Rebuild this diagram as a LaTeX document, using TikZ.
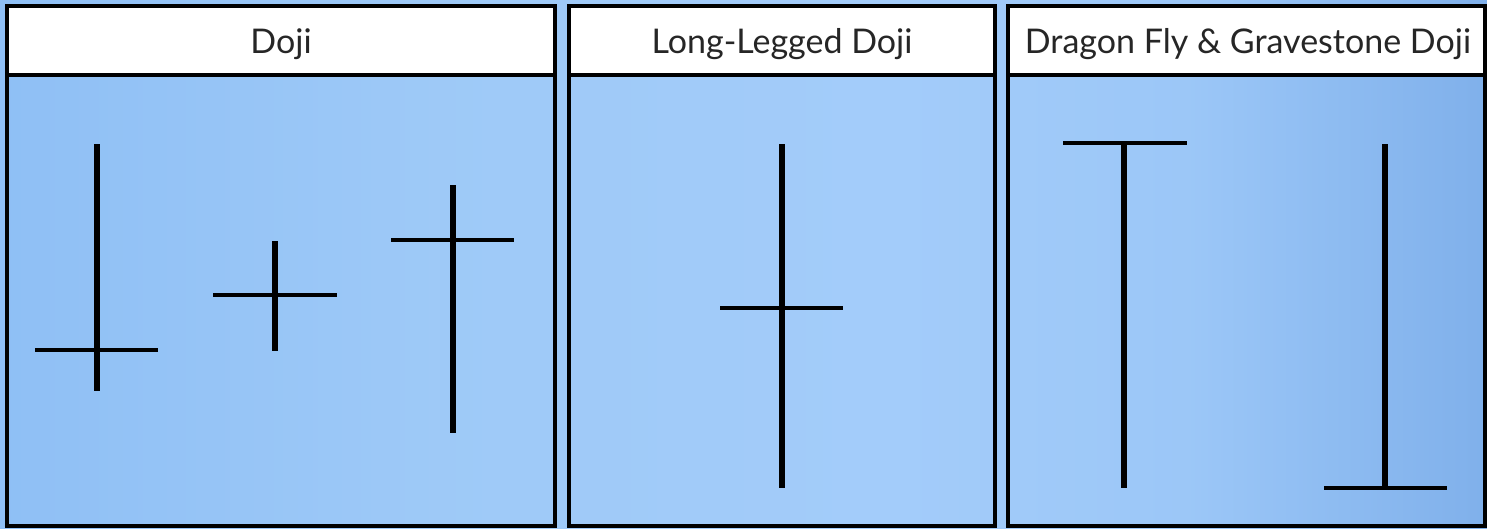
\documentclass[tikz,border=0pt]{standalone}
\usepackage{fontspec}
\setmainfont{Lato}
\pgfdeclarehorizontalshading{bgshade}{100bp}{
  rgb(0bp)=(0.56,0.75,0.96);
  rgb(25bp)=(0.56,0.75,0.96);
  rgb(40bp)=(0.62,0.79,0.97);
  rgb(55bp)=(0.64,0.80,0.98);
  rgb(65bp)=(0.61,0.78,0.97);
  rgb(75bp)=(0.50,0.69,0.92);
  rgb(100bp)=(0.50,0.69,0.92)}
\begin{document}
\begin{tikzpicture}[x=1pt,y=-1pt,
  panel/.style={draw=black,line width=4pt},
  header/.style={draw=black,line width=4pt,fill=white},
  title/.style={font=\fontsize{34}{40}\selectfont,text=black!85,anchor=base},
  stick/.style={draw=black,line width=5.5pt,line cap=butt},
  bar/.style={draw=black,line width=4.5pt,line cap=butt}]
\useasboundingbox (0,0) rectangle (1487,528);
\shade[shading=bgshade] (0,0) rectangle (1487,528);
% panels
\draw[panel] (7,6) rectangle (555,526);
\draw[panel] (569,6) rectangle (995,526);
\draw[panel] (1008,6) rectangle (1485,526);
\draw[header] (7,6) rectangle (555,75);
\draw[header] (569,6) rectangle (995,75);
\draw[header] (1008,6) rectangle (1485,75);
\node[title] (t1) at (281,53) {Doji};
\node[title] (t2) at (782,53) {Long-Legged Doji};
\node[title] (t3) at (1248,53) {Dragon Fly \& Gravestone Doji};
% Doji candles
\draw[stick] (97,144) -- (97,391);
\draw[bar] (35,350) -- (158,350);
\draw[stick] (275,241) -- (275,351);
\draw[bar] (213,295) -- (337,295);
\draw[stick] (453,185) -- (453,433);
\draw[bar] (391,240) -- (514,240);
% Long-legged
\draw[stick] (782,144) -- (782,488);
\draw[bar] (720,308) -- (843,308);
% Dragonfly
\draw[stick] (1124,143) -- (1124,488);
\draw[bar] (1063,143) -- (1187,143);
% Gravestone
\draw[stick] (1385,144) -- (1385,488);
\draw[bar] (1324,488) -- (1447,488);
\end{tikzpicture}
\end{document}
